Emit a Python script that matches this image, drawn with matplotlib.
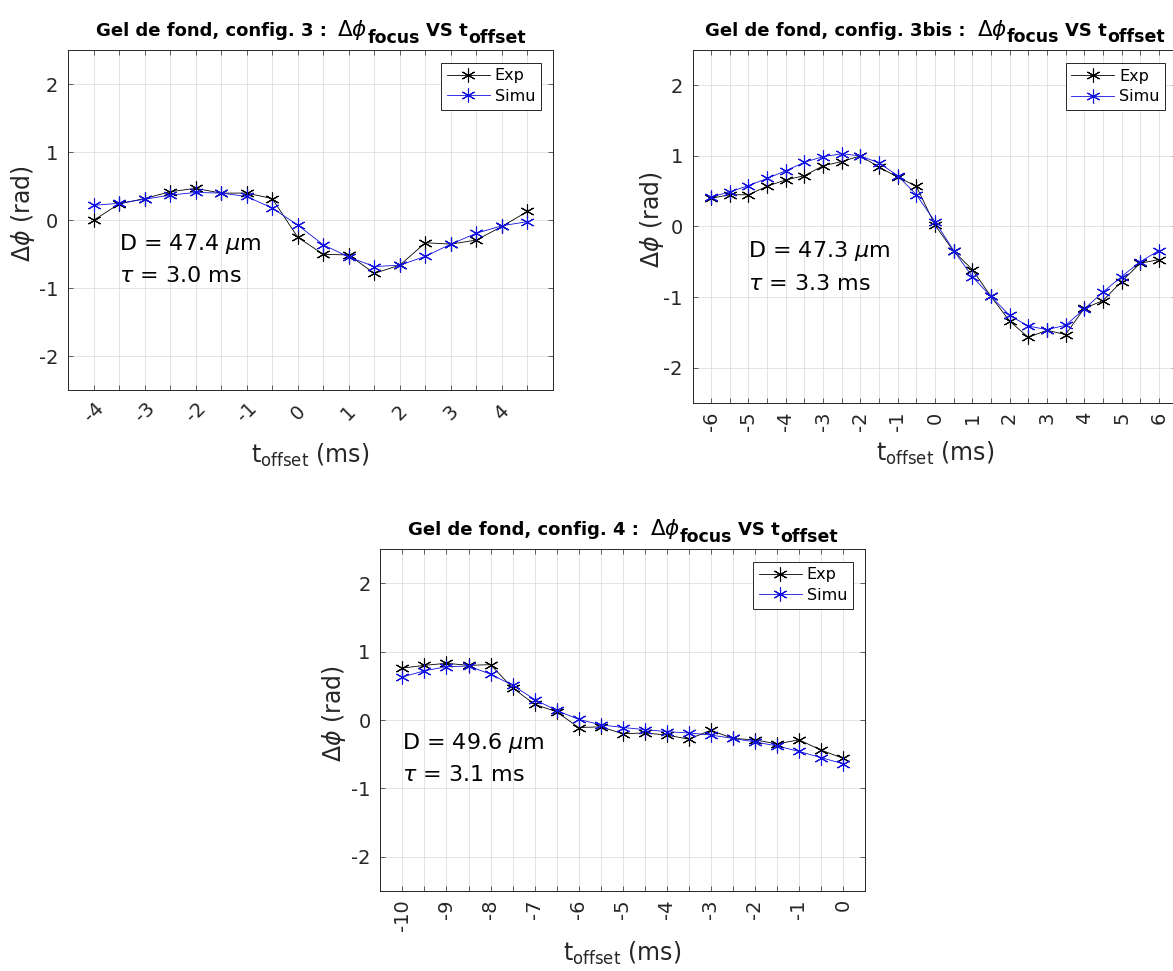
import matplotlib
matplotlib.use('Agg')
import matplotlib.pyplot as plt

plt.rcParams['font.family'] = ['DejaVu Sans']
plt.rcParams['mathtext.fontset'] = 'dejavusans'
plt.rcParams['axes.unicode_minus'] = False

# ---- data ----
t_cfg3 = [-4.0, -3.5, -3.0, -2.5, -2.0, -1.5, -1.0, -0.5, 0.0, 0.5, 1.0, 1.5,
          2.0, 2.5, 3.0, 3.5, 4.0, 4.5]
exp_cfg3 = [0.00, 0.24, 0.32, 0.42, 0.47, 0.40, 0.40, 0.32, -0.25, -0.50, -0.51,
            -0.78, -0.66, -0.33, -0.35, -0.29, -0.09, 0.13]
sim_cfg3 = [0.22, 0.25, 0.31, 0.37, 0.41, 0.40, 0.35, 0.18, -0.07, -0.36, -0.54,
            -0.68, -0.66, -0.53, -0.35, -0.19, -0.08, -0.02]

t_cfg3bis = [-6.0, -5.5, -5.0, -4.5, -4.0, -3.5, -3.0, -2.5, -2.0, -1.5, -1.0, -0.5,
             0.0, 0.5, 1.0, 1.5, 2.0, 2.5, 3.0, 3.5, 4.0, 4.5, 5.0, 5.5, 6.0]
exp_cfg3bis = [0.40, 0.45, 0.45, 0.57, 0.66, 0.72, 0.86, 0.92, 1.00, 0.84, 0.70, 0.57,
               0.02, -0.35, -0.61, -0.99, -1.34, -1.57, -1.47, -1.53, -1.16, -1.05,
               -0.78, -0.52, -0.47]
sim_cfg3bis = [0.42, 0.49, 0.58, 0.68, 0.79, 0.91, 0.99, 1.03, 1.00, 0.90, 0.72, 0.45,
               0.07, -0.34, -0.71, -0.99, -1.26, -1.41, -1.46, -1.40, -1.17, -0.93,
               -0.71, -0.50, -0.34]

t_cfg4 = [-10.0, -9.5, -9.0, -8.5, -8.0, -7.5, -7.0, -6.5, -6.0, -5.5, -5.0, -4.5,
          -4.0, -3.5, -3.0, -2.5, -2.0, -1.5, -1.0, -0.5, 0.0]
exp_cfg4 = [0.76, 0.80, 0.83, 0.80, 0.81, 0.47, 0.23, 0.12, -0.11, -0.10, -0.20, -0.19,
            -0.22, -0.28, -0.15, -0.27, -0.29, -0.35, -0.29, -0.44, -0.56]
sim_cfg4 = [0.63, 0.72, 0.78, 0.79, 0.67, 0.51, 0.30, 0.14, 0.01, -0.07, -0.11, -0.14,
            -0.17, -0.19, -0.22, -0.27, -0.32, -0.38, -0.46, -0.55, -0.64]

yticks = [-2, -1, 0, 1, 2]
fit_D = ['47.4', '47.3', '49.6']
fit_tau = ['3.0', '3.3', '3.1']
configs = ['3', '3bis', '4']

W, H = 1173, 971
DARK = '#262626'
fig = plt.figure(figsize=(W / 100, H / 100), dpi=100)
renderer = fig.canvas.get_renderer()


def axes_px(left, right, top, bottom):
    # place an axes from pixel edges (origin top-left)
    return fig.add_axes([left / W, 1 - bottom / H, (right - left) / W, (bottom - top) / H])


def rich_line(pieces, cx, base_y):
    # MATLAB-like title: pieces = (text, size, weight, drop_px, gap_px)
    arts, x = [], 0.0
    for s, fs, wt, dy, gap in pieces:
        x += gap
        t = fig.text(0, 0, s, fontsize=fs, fontweight=wt, va='baseline', ha='left')
        arts.append((t, x, dy))
        x += t.get_window_extent(renderer).width
    x0 = cx - x / 2
    for t, off, dy in arts:
        t.set_position(((x0 + off) / W, 1 - (base_y + dy) / H))


def draw(ax, box, t, exp, sim, cfg, D, tau, txt_x, rot, xlab_y, ylab_x):
    ax.plot(t, exp, color='k', lw=0.6, marker=(6, 2, 0), ms=10, mew=0.8, label='Exp')
    ax.plot(t, sim, color='#1010e0', lw=0.6, marker=(6, 2, 0), ms=10, mew=0.8, label='Simu')
    ax.set_xlim(t[0] - 0.5, t[-1] + 0.5)
    ax.set_ylim(-2.5, 2.5)
    ax.set_xticks(t)
    ax.set_xticklabels([f'{v:g}' if v == int(v) else '' for v in t])
    ax.set_yticks(yticks)
    ax.set_yticklabels([str(v) for v in yticks])
    ax.grid(True, color='#dedede', lw=0.6)
    ax.set_axisbelow(True)
    for s in ax.spines.values():
        s.set_color(DARK)
        s.set_linewidth(0.7)
    ax.tick_params(direction='in', length=3.5, width=0.5, top=True, right=True,
                   colors=DARK, labelsize=14, labelcolor=DARK)
    ax.tick_params(axis='y', pad=7)
    if rot == 45:
        ax.tick_params(axis='x', pad=16)
        for lbl in ax.get_xticklabels():
            lbl.set_rotation(45)
            lbl.set_ha('center')
            lbl.set_va('center')
            lbl.set_rotation_mode('anchor')
    else:
        ax.tick_params(axis='x', pad=6, labelrotation=90)

    left, right, top, bottom = box
    rich_line([('Gel de fond, config. ' + cfg + ' :', 13, 'bold', 0, 0),
               (r'$\Delta\phi$', 15.5, 'normal', 0, 11),
               ('focus', 12.5, 'bold', 7, 0),
               ('VS t', 13, 'bold', 0, 6),
               ('offset', 12.5, 'bold', 7, 0)],
              (left + right) / 2, top - 14.5)

    ax.set_xlabel(r'$\mathrm{t}_{\mathrm{offset}}$ (ms)', fontsize=17, color=DARK)
    ax.xaxis.set_label_coords(0.5, xlab_y)
    ax.set_ylabel(r'$\Delta\phi$ (rad)', fontsize=17, color=DARK, va='center')
    ax.yaxis.set_label_coords(ylab_x, 0.52)

    ax.text(txt_x, -0.43, r'D = ' + D + r' $\mu$m', fontsize=16, va='baseline')
    ax.text(txt_x, -0.90, r'$\tau$ = ' + tau + ' ms', fontsize=16, va='baseline')

    leg = ax.legend(loc='upper right', bbox_to_anchor=(0.975, 0.963), borderaxespad=0,
                    fontsize=11.5, handlelength=2.7, handletextpad=0.3, borderpad=0.35,
                    labelspacing=0.35, numpoints=1, fancybox=False, framealpha=1)
    leg.get_frame().set_edgecolor(DARK)
    leg.get_frame().set_linewidth(0.7)


box1 = (68, 553, 50.3, 390.3)
ax1 = axes_px(*box1)
draw(ax1, box1, t_cfg3, exp_cfg3, sim_cfg3, configs[0], fit_D[0], fit_tau[0], -3.5, 45, -0.151, -0.093)

box2 = (692.5, 1177.5, 50, 403)
ax2 = axes_px(*box2)
draw(ax2, box2, t_cfg3bis, exp_cfg3bis, sim_cfg3bis, configs[1], fit_D[1], fit_tau[1], -5.0, 90, -0.105, -0.084)

box3 = (380.4, 865, 549.2, 890.8)
ax3 = axes_px(*box3)
draw(ax3, box3, t_cfg4, exp_cfg4, sim_cfg4, configs[2], fit_D[2], fit_tau[2], -10.0, 90, -0.144, -0.095)

fig.savefig('out.png', dpi=100)
